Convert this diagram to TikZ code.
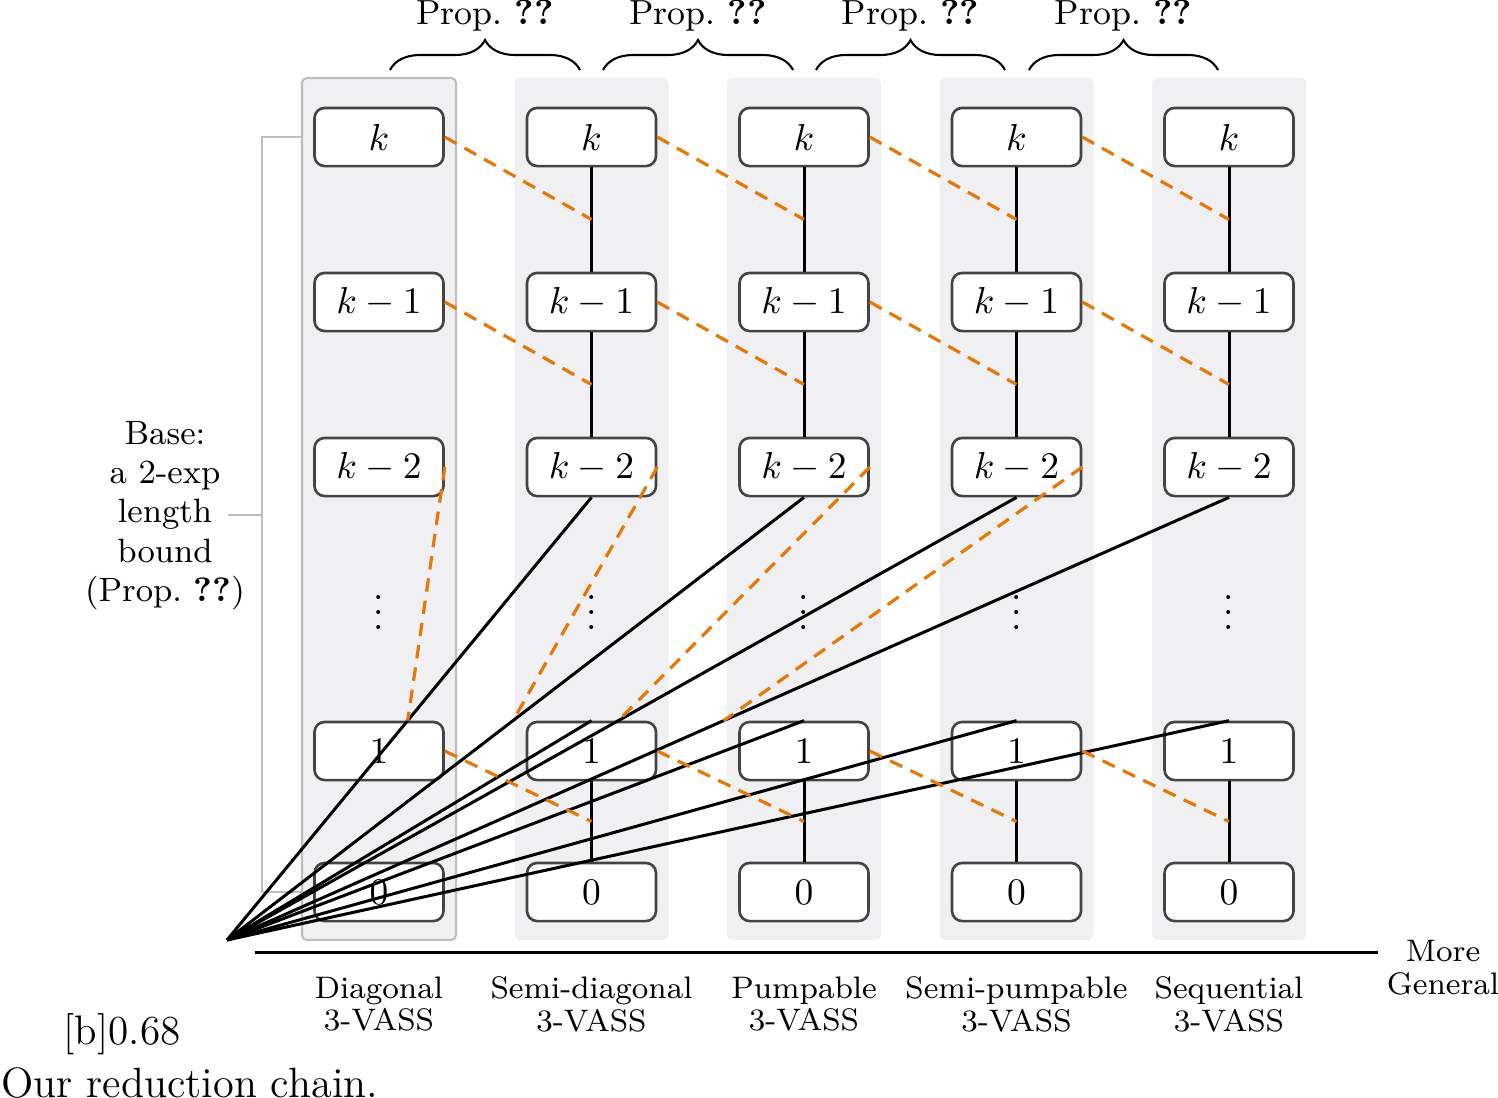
\documentclass[tikz,border=0pt]{standalone}
\usetikzlibrary{decorations.pathreplacing,calc}
\definecolor{colbg}{RGB}{240,240,242}
\definecolor{colbd}{RGB}{190,190,190}
\definecolor{nodebd}{RGB}{68,68,68}
\definecolor{dashor}{RGB}{230,120,10}
\tikzset{
  lvl/.style={draw=nodebd, line width=0.7pt, rounded corners=2.7pt, fill=white,
    minimum width=34.4pt, minimum height=15.5pt, inner sep=0pt},
  dotnode/.style={inner sep=0pt},
  colbox/.style={fill=colbg, rounded corners=1.3pt},
  firstbox/.style={fill=colbg, draw=colbd, line width=0.55pt, rounded corners=1.3pt},
  vline/.style={line width=0.8pt},
  ray/.style={line width=0.8pt},
  dsh/.style={dashor, line width=0.85pt, dash pattern=on 3.6pt off 2.4pt},
  bracketline/.style={colbd, line width=0.5pt},
  brc/.style={decorate, decoration={brace, amplitude=8pt}, line width=0.55pt},
  lbl/.style={align=center, font=\fontsize{8.3}{8.8}\selectfont, inner sep=0pt},
}
\begin{document}
\begin{tikzpicture}[x=0.2667pt, y=-0.2667pt]
\useasboundingbox (0,0) rectangle (1498,1097);

% column backgrounds
\foreach \i/\x in {1/379,2/591.5,3/804,4/1016.5,5/1229}{
  \ifnum\i=1
    \path[firstbox] (\x-77,78) rectangle (\x+77,940);
  \else
    \path[colbox] (\x-77,78) rectangle (\x+77,940);
  \fi
}

% level nodes
\foreach \i/\x in {1/379,2/591.5,3/804,4/1016.5,5/1229}{
  \node[lvl] (k\i)   at (\x,137) {$k$};
  \node[lvl] (km\i)  at (\x,302) {$k-1$};
  \node[lvl] (kmm\i) at (\x,467) {$k-2$};
  \node[dotnode] (d\i) at (\x,601) {$\vdots$};
  \node[lvl] (o\i)   at (\x,751) {$1$};
  \node[lvl] (z\i)   at (\x,892) {$0$};
}

% base bracket
\coordinate (bt) at (262,137);
\coordinate (bb) at (262,892);
\coordinate (bm) at (262,515);
\coordinate (bl) at (228,515);
\draw[bracketline] (303,137) -- (bt) -- (bb) -- (303,892);
\draw[bracketline] (bl) -- (bm);
\node[align=center, font=\fontsize{9}{10.5}\selectfont, inner sep=0pt] (base) at (165,515.5)
  {Base:\\a 2-exp\\length\\bound\\(Prop.~\textbf{??})};

% vertical chains
\foreach \i in {2,...,5}{
  \draw[vline] (k\i) -- (km\i);
  \draw[vline] (km\i) -- (kmm\i);
  \draw[vline] (o\i) -- (z\i);
}

% rays from origin
\coordinate (O) at (227,940);
\foreach \i in {2,...,5}{
  \draw[ray] (O) -- (kmm\i.south);
  \draw[ray] (O) -- (o\i.north);
}

% orange dashed reductions
\foreach \i/\j in {1/2,2/3,3/4,4/5}{
  \draw[dsh] (k\i.east) -- ($(k\j.south)!0.5!(km\j.north)$);
  \draw[dsh] (km\i.east) -- ($(km\j.south)!0.5!(kmm\j.north)$);
  \draw[dsh] (o\i.east) -- ($(o\j.south)!0.5!(z\j.north)$);
  \draw[dsh] (kmm\i.east) -- (intersection of O--kmm\j.south and o1.north--o5.north);
}

% braces
\foreach \a/\b/\n in {390/580/1,603/793/2,816/1005/3,1029/1218/4}{
  \draw[brc] (\a,70) -- (\b,70);
  \node[font=\fontsize{9.3}{11}\selectfont, inner sep=0pt] (p\n) at ({(\a+\b)/2},16) {Prop.~\textbf{??}};
}

% axis
\coordinate (ax1) at (255,952);
\coordinate (ax2) at (1378,952);
\draw[line width=0.8pt] (ax1) -- (ax2);
\node[lbl] (mg) at (1443,968) {More\\General};

% column labels
\node[lbl] (l1) at (379,1004) {Diagonal\\3-VASS};
\node[lbl] (l2) at (591.5,1004) {Semi-diagonal\\3-VASS};
\node[lbl] (l3) at (804,1004) {Pumpable\\3-VASS};
\node[lbl] (l4) at (1016.5,1004) {Semi-pumpable\\3-VASS};
\node[lbl] (l5) at (1229,1004) {Sequential\\3-VASS};

% stray caption text
\node[inner sep=0pt, anchor=west, font=\fontsize{11}{13}\selectfont] (sb) at (63,1034) {[b]0.68};
\node[inner sep=0pt, anchor=west, font=\fontsize{11.3}{13}\selectfont] (cap) at (0.5,1083) {Our reduction chain.};
\end{tikzpicture}
\end{document}
